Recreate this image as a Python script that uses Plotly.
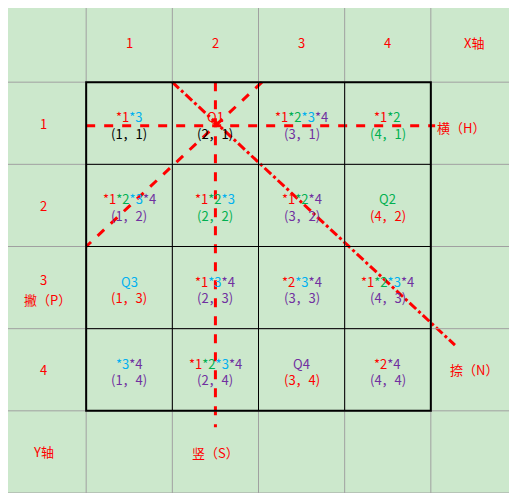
import plotly.graph_objects as go

R, G, C, P, K = "#ff0000", "#00b050", "#00b0f0", "#7030a0", "#000000"

col_labels = ["1", "2", "3", "4"]
row_labels = ["1", "2", "3", "4"]

# top line of each cell: list of (text, colour) pieces, keyed by (col, row)
cell_top = {
    (1, 1): [("*1", R), ("*3", C)],
    (2, 1): [("Q1", R)],
    (3, 1): [("*1", R), ("*2", G), ("*3", C), ("*4", P)],
    (4, 1): [("*1", R), ("*2", G)],
    (1, 2): [("*1", R), ("*2", G), ("*3", C), ("*4", P)],
    (2, 2): [("*1", R), ("*2", G), ("*3", C)],
    (3, 2): [("*1", R), ("*2", G), ("*4", P)],
    (4, 2): [("Q2", G)],
    (1, 3): [("Q3", C)],
    (2, 3): [("*1", R), ("*3", C), ("*4", P)],
    (3, 3): [("*2", R), ("*3", C), ("*4", P)],
    (4, 3): [("*1", R), ("*2", G), ("*3", C), ("*4", P)],
    (1, 4): [("*3", C), ("*4", P)],
    (2, 4): [("*1", R), ("*2", G), ("*3", C), ("*4", P)],
    (3, 4): [("Q4", P)],
    (4, 4): [("*2", R), ("*4", P)],
}
coord_color = {
    (1, 1): K, (2, 1): K, (3, 1): P, (4, 1): G,
    (1, 2): P, (2, 2): G, (3, 2): P, (4, 2): R,
    (1, 3): R, (2, 3): P, (3, 3): P, (4, 3): P,
    (1, 4): P, (2, 4): P, (3, 4): R, (4, 4): P,
}

FONT = "Noto Sans CJK SC"
fig = go.Figure()
shapes = []
# grid lines
for i in range(7):
    shapes.append(dict(type="line", x0=i, x1=i, y0=0, y1=6, line=dict(color="#a0a0a0", width=1)))
    shapes.append(dict(type="line", x0=0, x1=6, y0=i, y1=i, line=dict(color="#a0a0a0", width=1)))
for i in range(2, 5):
    shapes.append(dict(type="line", x0=i, x1=i, y0=1, y1=5, line=dict(color="black", width=1)))
    shapes.append(dict(type="line", x0=1, x1=5, y0=i, y1=i, line=dict(color="black", width=1)))
shapes.append(dict(type="rect", x0=1, x1=5, y0=1, y1=5, line=dict(color="black", width=2)))

# strokes through Q1
strokes = [
    ([1.0, 5.05], [1.53, 1.53], "dash"),
    ([2.5, 2.5], [1.0, 5.2], "dash"),
    ([3.04, 1.0], [1.0, 3.0], "dash"),
    ([2.0, 5.28], [1.0, 4.2], "dashdot"),
]
for xs, ys, d in strokes:
    fig.add_trace(go.Scatter(x=xs, y=ys, mode="lines", line=dict(color=R, width=3, dash=d),
                             hoverinfo="skip", showlegend=False))

ann = []
def txt(x, y, s, color=R):
    ann.append(dict(x=x, y=y, text=s, showarrow=False, font=dict(color=color, size=13, family=FONT)))

for i, lab in enumerate(col_labels):
    txt(i + 1.5, 0.52, lab)
    txt(0.5, i + 1.5 if i != 2 else 3.4, row_labels[i])
txt(5.5, 0.52, "X轴")
txt(0.5, 5.5, "Y轴")
txt(0.55, 3.64, "撇（P）")
txt(2.5, 5.51, "竖（S）")
txt(5.35, 1.55, "横（H）")
txt(5.5, 4.5, "捺（N）")

for (c, r), parts in cell_top.items():
    s = "".join(f"<span style='color:{col}'>{t}</span>" for t, col in parts)
    txt(c + 0.5, r + 0.42, s)
    txt(c + 0.5, r + 0.62, f"({c},{r})".replace(",", "，"), coord_color[(c, r)])

# page body has an 8px margin; shift ranges so the grid sits at the window edge
fig.update_layout(
    width=509, height=485, margin=dict(l=0, r=0, t=0, b=0),
    paper_bgcolor="#cce8cc", plot_bgcolor="#cce8cc",
    xaxis=dict(range=[8 / 86.17, 6], visible=False, fixedrange=True),
    yaxis=dict(range=[6, 8 / 82.17], visible=False, fixedrange=True),
    shapes=shapes, annotations=ann,
)
fig.write_html("out.html")
